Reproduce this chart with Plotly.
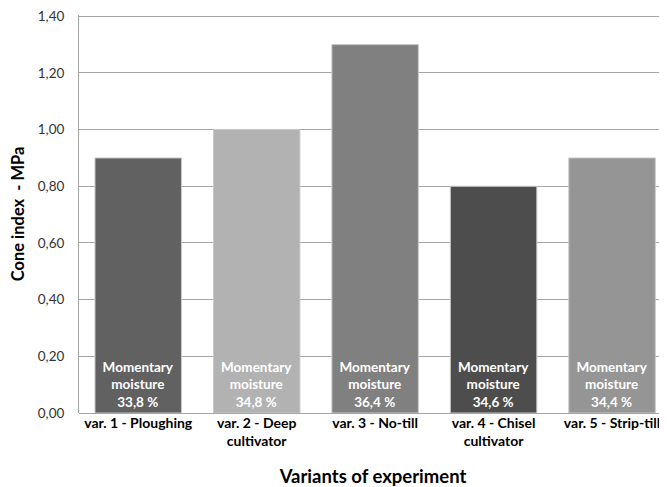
import plotly.graph_objects as go

categories = ["var. 1 - Ploughing", "var. 2 - Deep<br>cultivator", "var. 3 - No-till",
              "var. 4 - Chisel<br>cultivator", "var. 5 - Strip-till"]
cone_index = [0.90, 1.00, 1.30, 0.80, 0.90]
moisture = ["33,8", "34,8", "36,4", "34,6", "34,4"]
bar_colors = ["#616161", "#b2b2b2", "#808080", "#4d4d4d", "#959595"]
y_ticks = [0.0, 0.2, 0.4, 0.6, 0.8, 1.0, 1.2, 1.4]
y_tick_labels = ["0,00", "0,20", "0,40", "0,60", "0,80", "1,00", "1,20", "1,40"]

labels = [f"Momentary<br>moisture<br>{m} %" for m in moisture]

FONT = "Lato"

fig = go.Figure(go.Bar(
    x=categories,
    y=cone_index,
    width=0.73,
    marker=dict(color=bar_colors, line=dict(color="#c8c8c8", width=1)),
    text=labels,
    textposition="inside",
    insidetextanchor="start",
    textangle=0,
    textfont=dict(family=FONT, size=13.5, color="white", weight="bold"),
    cliponaxis=False,
))

fig.update_layout(
    width=667, height=479,
    margin=dict(l=71, r=8, t=7, b=74),
    paper_bgcolor="white", plot_bgcolor="white",
    showlegend=False,
    uniformtext=dict(mode=False),
    font=dict(family=FONT, color="#262626"),
)

fig.update_xaxes(
    range=[-0.5, 4.464],
    automargin=False,
    showgrid=False,
    showline=False,
    ticks="",
    tickfont=dict(family=FONT, size=14, color="#000000", weight="bold"),
    title=dict(text="Variants of experiment", font=dict(family=FONT, size=18.5, color="#000000", weight="bold"), standoff=24),
    fixedrange=True,
)
fig.update_yaxes(
    range=[0, 1.4045],
    automargin=False,
    tickmode="array",
    tickvals=y_ticks,
    ticktext=y_tick_labels,
    ticklabeloverflow="allow",
    showgrid=True, gridcolor="#a6a6a6", gridwidth=1,
    showline=True, linecolor="#a6a6a6", linewidth=1,
    zeroline=True, zerolinecolor="#a6a6a6", zerolinewidth=1,
    ticks="", ticklabelstandoff=11,
    tickfont=dict(family=FONT, size=13.5, color="#333333"),
    title=dict(text="Cone index  - MPa", font=dict(family=FONT, size=16.5, color="#000000", weight="bold"), standoff=16),
)

fig.write_html("out.html")
